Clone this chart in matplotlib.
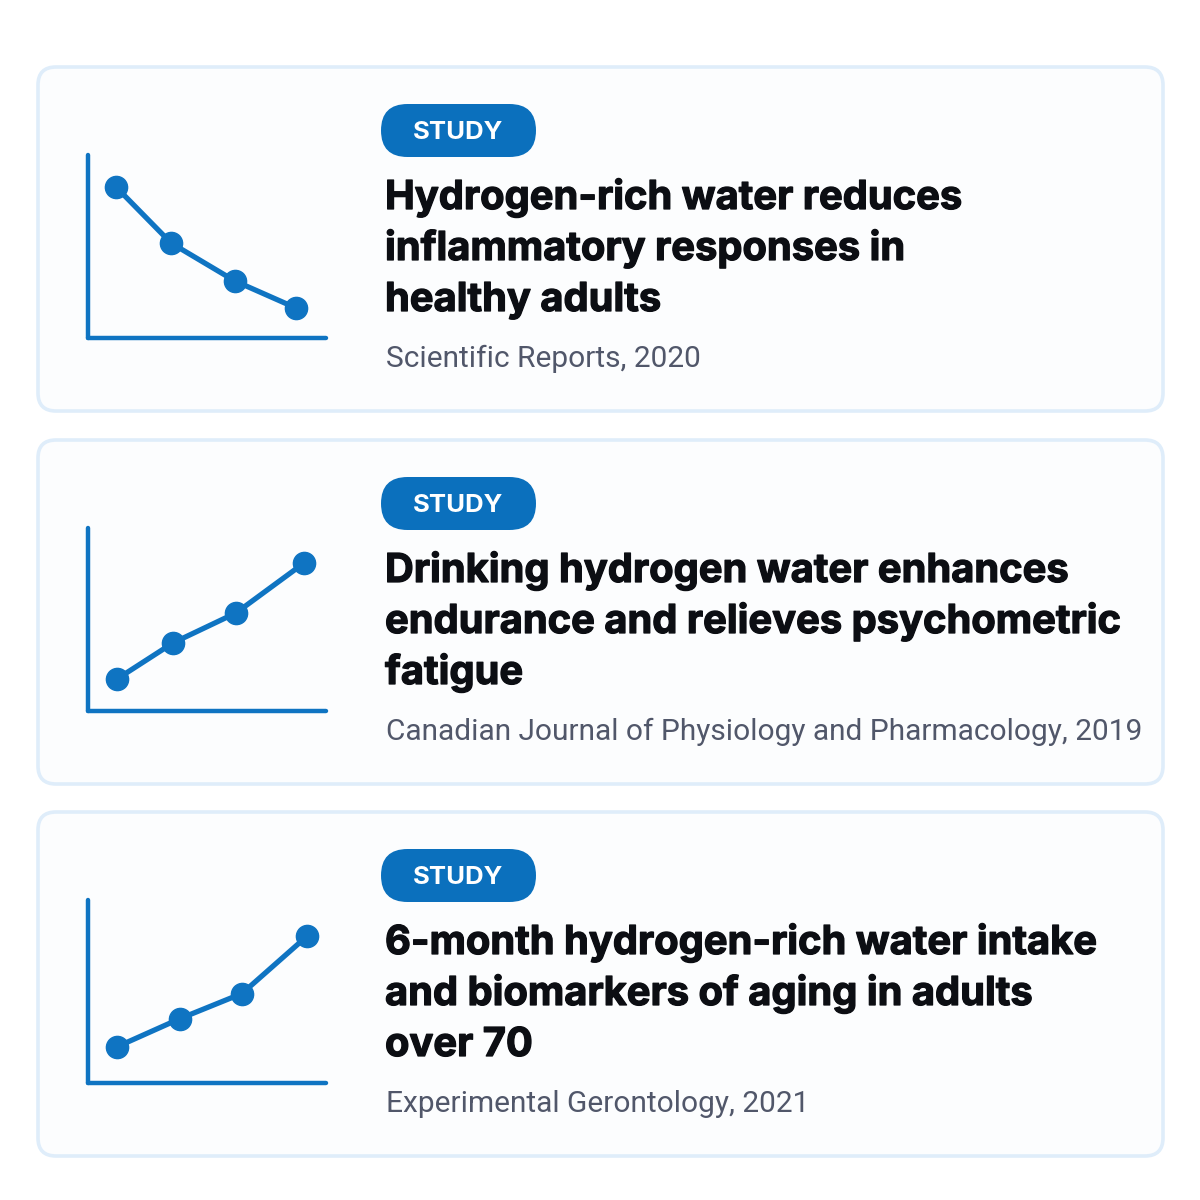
import matplotlib
matplotlib.use("Agg")
import matplotlib.pyplot as plt
import matplotlib.patheffects as pe
from matplotlib.patches import FancyBboxPatch

# study cards
titles = [
    ["Hydrogen-rich water reduces", "inflammatory responses in", "healthy adults"],
    ["Drinking hydrogen water enhances", "endurance and relieves psychometric", "fatigue"],
    ["6-month hydrogen-rich water intake", "and biomarkers of aging in adults", "over 70"],
]
sources = [
    "Scientific Reports, 2020",
    "Canadian Journal of Physiology and Pharmacology, 2019",
    "Experimental Gerontology, 2021",
]
badge = "STUDY"

# mini trend icons (icon-local units, 0-100)
icon_x = [
    [11.8, 34.9, 61.8, 87.4],
    [12.2, 35.7, 62.2, 90.8],
    [12.2, 38.7, 64.7, 92.0],
]
icon_y = [
    [82.5, 51.9, 31.1, 16.4],
    [17.5, 37.2, 53.6, 80.9],
    [19.8, 35.2, 48.9, 80.2],
]

BLUE = "#0f74c2"
PILL = "#0b70bd"
INK = "#0c0e13"
GREY = "#51576a"
CARD_FACE = "#fcfdfe"
CARD_EDGE = "#dfedfa"

W = H = 1200
fig = plt.figure(figsize=(12, 12), dpi=100)
fig.patch.set_facecolor("white")
ax = fig.add_axes([0, 0, 1, 1])
ax.set_xlim(0, W)
ax.set_ylim(H, 0)
ax.axis("off")

card_tops = [67, 440, 812]
card_h = 344

# thicken the bold title a little
heavy = [pe.withStroke(linewidth=0.9, foreground=INK)]

for i, top in enumerate(card_tops):
    # card background
    ax.add_patch(FancyBboxPatch((38, top), 1125, card_h,
                                boxstyle="round,pad=0,rounding_size=18",
                                fc=CARD_FACE, ec=CARD_EDGE, lw=2.6, zorder=1))

    # badge
    ax.add_patch(FancyBboxPatch((381, top + 37), 155, 53,
                                boxstyle="round,pad=0,rounding_size=26.5",
                                fc=PILL, ec="none", zorder=2))
    ax.text(458.5, top + 65.5, badge, color="white", fontsize=18.5,
            fontfamily="Inter", fontweight="bold", ha="center", va="center",
            zorder=3)

    # title lines
    for j, line in enumerate(titles[i]):
        ax.text(385, top + 142 + 51 * j, line, color=INK, fontsize=28.7,
                fontfamily="Inter", fontweight="bold", ha="left",
                va="baseline", zorder=3, path_effects=heavy)

    # source
    ax.text(386, top + 300, sources[i], color=GREY, fontsize=21.5,
            fontfamily="Roboto", ha="left", va="baseline", zorder=3)

    # icon chart
    left, bottom = 88, top + 271
    iax = fig.add_axes([left / W, 1 - bottom / H, 238 / W, 183 / H])
    iax.set_xlim(0, 100)
    iax.set_ylim(0, 100)
    iax.patch.set_alpha(0)
    for s in ["top", "right"]:
        iax.spines[s].set_visible(False)
    for s in ["left", "bottom"]:
        iax.spines[s].set_color(BLUE)
        iax.spines[s].set_linewidth(3.2)
        iax.spines[s].set_capstyle("round")
    iax.set_xticks([])
    iax.set_yticks([])
    iax.plot(icon_x[i], icon_y[i], color=BLUE, lw=3.8, marker="o",
             markersize=16, markerfacecolor=BLUE, markeredgecolor=BLUE,
             solid_capstyle="round", clip_on=False)

fig.savefig("out.png", dpi=100, facecolor="white")
